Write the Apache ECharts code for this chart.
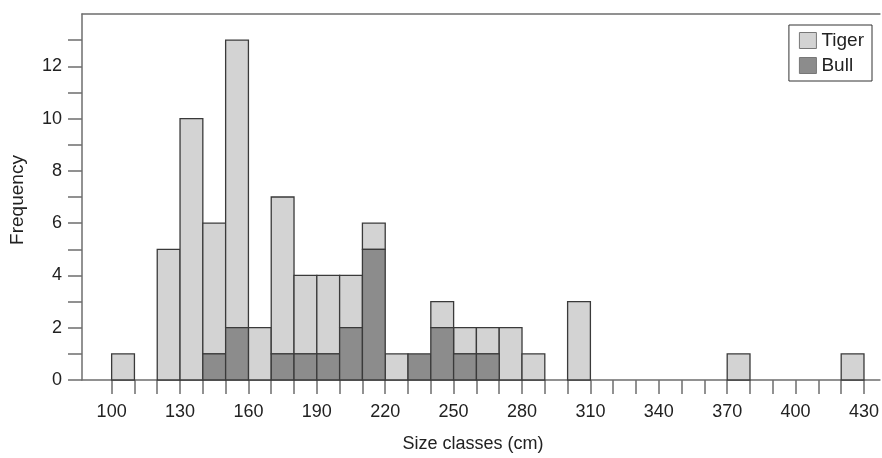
<!DOCTYPE html>
<html>
<head>
<meta charset="utf-8">
<script src="https://cdn.jsdelivr.net/npm/echarts@6/dist/echarts.min.js"></script>
<style>html,body{margin:0;padding:0;background:#fff}#c{width:882px;height:458px}</style>
</head>
<body>
<div id="c"></div>
<script>
// Bin starts (cm), each bin is 10 cm wide
const binStarts = [100,110,120,130,140,150,160,170,180,190,200,210,220,230,240,250,260,270,280,290,300,310,320,330,340,350,360,370,380,390,400,410,420];
const tigerCounts = [1,0,5,10,5,11,2,6,3,3,2,1,1,0,1,1,1,2,1,0,3,0,0,0,0,0,0,1,0,0,0,0,1];
const bullCounts  = [0,0,0,0,1,2,0,1,1,1,2,5,0,1,2,1,1,0,0,0,0,0,0,0,0,0,0,0,0,0,0,0,0];
const xTickValues = [100,110,120,130,140,150,160,170,180,190,200,210,220,230,240,250,260,270,280,290,300,310,320,330,340,350,360,370,380,390,400,410,420,430];
const xLabelValues = [100,130,160,190,220,250,280,310,340,370,400,430];
const yTickValues = [0,1,2,3,4,5,6,7,8,9,10,11,12,13];
const yLabelValues = [0,2,4,6,8,10,12];
const binWidth = 10;

const FONT = '"Liberation Sans", Arial, sans-serif';
const TIGER_COLOR = '#d3d3d3';
const BULL_COLOR = '#8c8c8c';
const EDGE = '#3a3a3a';
const AXIS = '#6e6e6e';

const bullData = binStarts.map((s, i) => [s, bullCounts[i], 0]);
const tigerData = binStarts.map((s, i) => [s, tigerCounts[i], bullCounts[i]]);

function makeRender(fill) {
  return function (params, api) {
    const x0 = api.value(0), v = api.value(1), base = api.value(2);
    if (!v) return null;
    const p0 = api.coord([x0, base + v]);
    const p1 = api.coord([x0 + binWidth, base]);
    return {
      type: 'rect',
      shape: { x: p0[0], y: p0[1], width: p1[0] - p0[0], height: p1[1] - p0[1] },
      style: { fill: fill, stroke: EDGE, lineWidth: 1.3 }
    };
  };
}

const chart = echarts.init(document.getElementById('c'), null, { renderer: 'canvas' });
chart.setOption({
  animation: false,
  backgroundColor: '#fff',
  textStyle: { fontFamily: FONT },
  grid: { left: 82, right: 2, top: 14, bottom: 77, containLabel: false },
  legend: {
    orient: 'vertical',
    right: 10,
    top: 25,
    icon: 'rect',
    itemWidth: 17,
    itemHeight: 16,
    itemGap: 6,
    padding: [6, 8, 6, 10],
    borderColor: '#333',
    borderWidth: 1,
    itemStyle: { borderColor: '#777', borderWidth: 1 },
    textStyle: { fontFamily: FONT, fontSize: 19, color: '#222' },
    data: ['Tiger', 'Bull']
  },
  xAxis: [{
    type: 'value',
    min: 87,
    max: 437,
    name: 'Size classes (cm)',
    nameLocation: 'middle',
    nameGap: 55,
    nameTextStyle: { fontFamily: FONT, fontSize: 18, color: '#222', padding: [0, 16, 0, 0] },
    axisLine: { show: true, onZero: false, lineStyle: { color: AXIS, width: 1.5 } },
    axisTick: { show: true, inside: false, length: 14, customValues: xTickValues, lineStyle: { color: AXIS, width: 1.5 } },
    axisLabel: { show: true, margin: 23, customValues: xLabelValues, fontFamily: FONT, fontSize: 18, color: '#222' },
    splitLine: { show: false }
  }, {
    type: 'value',
    position: 'top',
    min: 87,
    max: 437,
    axisLine: { show: true, onZero: false, lineStyle: { color: AXIS, width: 1.5 } },
    axisTick: { show: false },
    axisLabel: { show: false },
    splitLine: { show: false }
  }],
  yAxis: {
    type: 'value',
    min: 0,
    max: 14,
    interval: 1,
    name: 'Frequency',
    nameLocation: 'middle',
    nameGap: 55,
    nameRotate: 90,
    nameTextStyle: { fontFamily: FONT, fontSize: 19, color: '#222', padding: [0, 6, 0, 0] },
    axisLine: { show: true, lineStyle: { color: AXIS, width: 1.5 } },
    axisTick: { show: true, inside: false, length: 14, customValues: yTickValues, lineStyle: { color: AXIS, width: 1.5 } },
    axisLabel: { show: true, margin: 20, customValues: yLabelValues, fontFamily: FONT, fontSize: 18, color: '#222' },
    splitLine: { show: false }
  },
  series: [{
    name: 'Bull',
    type: 'custom',
    xAxisIndex: 0,
    itemStyle: { color: BULL_COLOR },
    renderItem: makeRender(BULL_COLOR),
    encode: { x: 0, y: 1 },
    data: bullData,
    z: 3
  }, {
    name: 'Tiger',
    type: 'custom',
    xAxisIndex: 0,
    itemStyle: { color: TIGER_COLOR },
    renderItem: makeRender(TIGER_COLOR),
    encode: { x: 0, y: 1 },
    data: tigerData,
    z: 2
  }]
});
</script>
</body>
</html>
